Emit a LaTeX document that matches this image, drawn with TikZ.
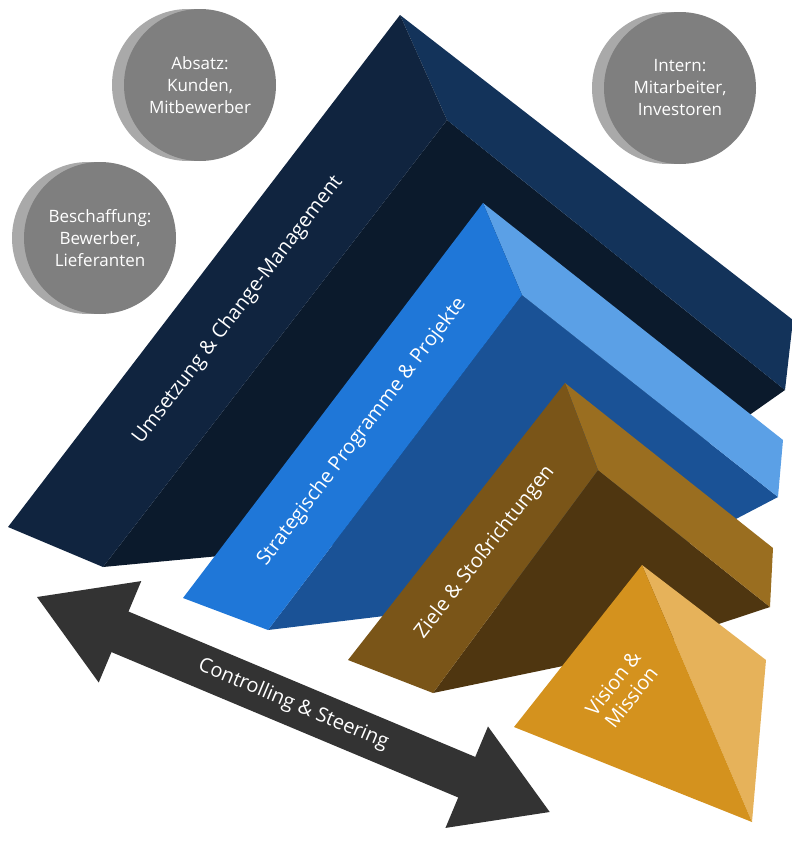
\documentclass[tikz,border=0pt]{standalone}
\usepackage{fontspec}
\setmainfont{Open Sans}
\definecolor{disc}{HTML}{7F7F7F}\definecolor{discs}{HTML}{A9A9A9}
\definecolor{nA}{HTML}{0B1A2C}\definecolor{nB}{HTML}{13335A}\definecolor{nC}{HTML}{10243F}
\definecolor{bA}{HTML}{1A5296}\definecolor{bB}{HTML}{5BA0E6}\definecolor{bC}{HTML}{1F77D8}
\definecolor{rA}{HTML}{4F3610}\definecolor{rB}{HTML}{9A6E20}\definecolor{rC}{HTML}{7A5518}
\definecolor{gA}{HTML}{E6B25A}\definecolor{gB}{HTML}{D4921E}\definecolor{arr}{HTML}{333333}
\begin{document}
\begin{tikzpicture}[x=1pt,y=-1pt,
  lbl/.style={text=white,font=\fontsize{20}{23}\selectfont,align=center},
  ctxt/.style={text=white,font=\fontsize{17}{22}\selectfont,align=center},
]
\useasboundingbox (0,0) rectangle (792,860);
\foreach \n/\cx/\cy/\t in {a/200/85/{Absatz:\\Kunden,\\Mitbewerber},b/100/238/{Beschaffung:\\Bewerber,\\Lieferanten},c/680/88/{Intern:\\Mitarbeiter,\\Investoren}}{
  \fill[discs] (\cx-12,\cy) circle (76);
  \fill[disc] (\cx,\cy) circle (76);
  \node[ctxt] (\n) at (\cx,\cy) {\t};
}
\fill[nA] (447,120)--(785,390)--(600,520)--(103,567)--cycle;
\fill[nB] (400,15)--(793,320)--(785,390)--(447,120)--cycle;
\fill[nC] (400,15)--(8,527)--(103,567)--(447,120)--cycle;
\node[lbl,rotate=52.6] (u) at (238,310) {Umsetzung \& Change-Management};
\fill[bA] (522,295)--(778,497)--(600,590)--(268,630)--cycle;
\fill[bB] (483,203)--(783,440)--(778,497)--(522,295)--cycle;
\fill[bC] (483,203)--(183,598)--(268,630)--(522,295)--cycle;
\node[lbl,rotate=52.8] (s) at (362,432) {Strategische Programme \& Projekte};
\fill[rA] (598,470)--(770,607)--(640,650)--(433,693)--cycle;
\fill[rB] (565,383)--(773,548)--(770,607)--(598,470)--cycle;
\fill[rC] (565,383)--(348,660)--(433,693)--(598,470)--cycle;
\node[lbl,rotate=52] (z) at (485,552) {Ziele \& Stoßrichtungen};
\fill[gA] (642,565)--(752,822)--(766,660)--cycle;
\fill[gB] (642,565)--(514,727)--(752,822)--cycle;
\node[lbl,rotate=52] (v) at (622,690) {Vision \&\\Mission};
\begin{scope}[shift={(37,597)},rotate=-22.75]
\fill[arr] (0,0)--(90,-55)--(90,-22)--(466,-22)--(466,-55)--(556,0)--(466,55)--(466,22)--(90,22)--(90,55)--cycle;
\coordinate (cc) at (278,0);
\end{scope}
\node[lbl,rotate=-22.75] (c) at (cc) {Controlling \& Steering};
\end{tikzpicture}
\end{document}
